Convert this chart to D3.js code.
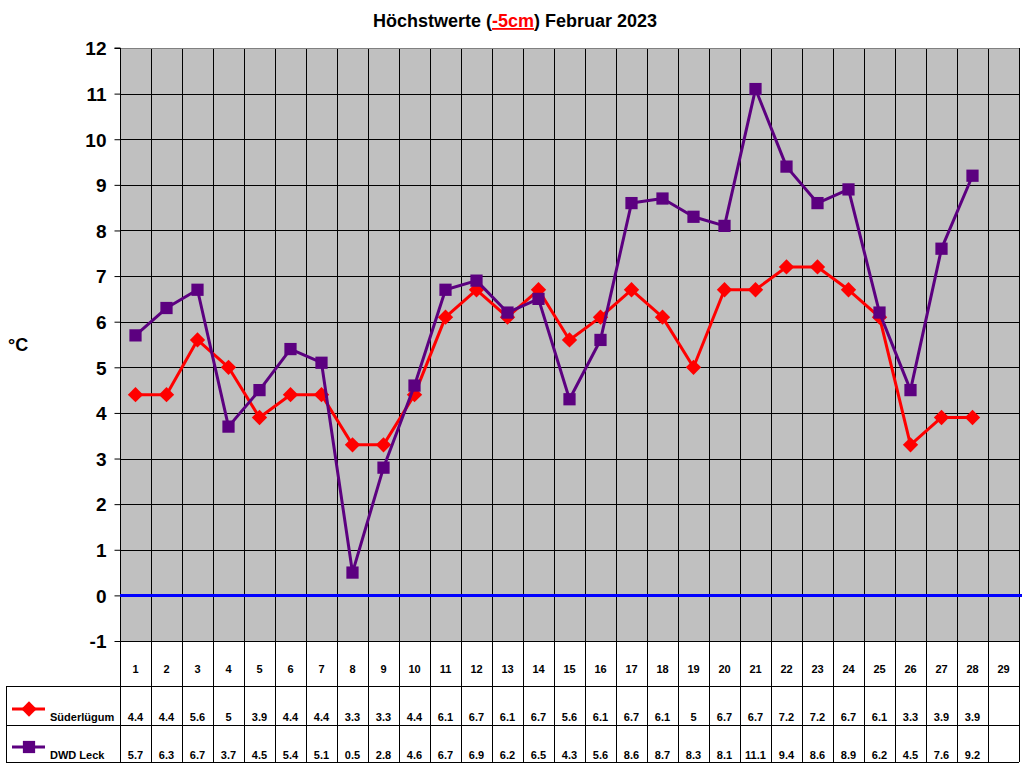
<!DOCTYPE html>
<html>
<head>
<meta charset="utf-8">
<script src="https://cdn.jsdelivr.net/npm/d3@7"></script>
<style>
  body { margin: 0; background: #fff; }
  svg { display: block; font-family: Arial, "Liberation Sans", sans-serif; }
</style>
</head>
<body>
<svg width="1024" height="768"></svg>
<script>
const days = d3.range(1, 30);
const suederluegum = [4.4, 4.4, 5.6, 5, 3.9, 4.4, 4.4, 3.3, 3.3, 4.4, 6.1, 6.7, 6.1, 6.7, 5.6, 6.1, 6.7, 6.1, 5, 6.7, 6.7, 7.2, 7.2, 6.7, 6.1, 3.3, 3.9, 3.9];
const dwdLeck = [5.7, 6.3, 6.7, 3.7, 4.5, 5.4, 5.1, 0.5, 2.8, 4.6, 6.7, 6.9, 6.2, 6.5, 4.3, 5.6, 8.6, 8.7, 8.3, 8.1, 11.1, 9.4, 8.6, 8.9, 6.2, 4.5, 7.6, 9.2];
const yTicks = d3.range(-1, 13);

const series = [
  { name: 'Süderlügum', values: suederluegum, color: '#ff0000', marker: 'diamond' },
  { name: 'DWD Leck', values: dwdLeck, color: '#5c0080', marker: 'square' }
];

const svg = d3.select('svg');
const pLeft = 120, pRight = 1019, pTop = 48, pBottom = 641;
const rowY = [641, 686, 725, 762];

const x = d3.scaleBand().domain(days).range([pLeft, pRight]);
const y = d3.scaleLinear().domain([-1, 12]).range([pBottom, pTop]);

// title
const title = svg.append('text')
  .attr('x', 515).attr('y', 27)
  .attr('text-anchor', 'middle')
  .style('font-size', '18px').style('font-weight', 'bold');
title.append('tspan').text('Höchstwerte (');
title.append('tspan').attr('fill', '#ff0000').style('text-decoration', 'underline').text('-5cm');
title.append('tspan').text(') Februar 2023');

// plot background
svg.append('rect')
  .attr('x', pLeft).attr('y', pTop)
  .attr('width', pRight - pLeft).attr('height', pBottom - pTop)
  .attr('fill', '#c0c0c0');

// horizontal grid
svg.append('g').selectAll('line').data(yTicks.filter(d => d > -1 && d < 12))
  .enter().append('line')
  .attr('x1', pLeft).attr('x2', pRight)
  .attr('y1', d => Math.round(y(d)) + 0.5).attr('y2', d => Math.round(y(d)) + 0.5)
  .attr('stroke', '#000').attr('stroke-width', 1);

// vertical grid (through plot and table)
svg.append('g').selectAll('line').data(days.slice(1))
  .enter().append('line')
  .attr('x1', d => Math.round(x(d)) + 0.5).attr('x2', d => Math.round(x(d)) + 0.5)
  .attr('y1', pTop).attr('y2', rowY[3])
  .attr('stroke', '#000').attr('stroke-width', 1);

// plot top border
svg.append('line')
  .attr('x1', pLeft).attr('x2', pRight).attr('y1', pTop + 0.5).attr('y2', pTop + 0.5)
  .attr('stroke', '#808080');
svg.append('line')
  .attr('x1', pRight + 0.5).attr('x2', pRight + 0.5).attr('y1', pTop).attr('y2', rowY[3])
  .attr('stroke', '#000');

// y axis
const yAxis = svg.append('g')
  .attr('transform', `translate(${pLeft + 0.5},0)`)
  .call(d3.axisLeft(y).tickValues(yTicks).tickSize(6).tickPadding(8).tickFormat(d => String(d)));
yAxis.selectAll('.tick line').attr('stroke', '#000');
yAxis.selectAll('.tick text')
  .style('font-size', '19px').style('font-weight', 'bold').attr('fill', '#000')
  .attr('dy', '0.36em');
yAxis.select('.domain').attr('stroke', '#000').attr('d', `M-6,${pTop}H0V${rowY[3]}`);

svg.append('text')
  .attr('x', 8).attr('y', 351)
  .style('font-size', '18px').style('font-weight', 'bold')
  .text('°C');

// zero line
svg.append('line')
  .attr('x1', pLeft).attr('x2', pRight + 3)
  .attr('y1', y(0)).attr('y2', y(0))
  .attr('stroke', '#0000ff').attr('stroke-width', 3);

// table lines
svg.append('line').attr('x1', pLeft).attr('x2', pRight).attr('y1', rowY[0] + 0.5).attr('y2', rowY[0] + 0.5).attr('stroke', '#000');
[rowY[1], rowY[2], rowY[3]].forEach(ry => {
  svg.append('line').attr('x1', 6).attr('x2', pRight).attr('y1', ry + 0.5).attr('y2', ry + 0.5).attr('stroke', '#000');
});
svg.append('line').attr('x1', 6.5).attr('x2', 6.5).attr('y1', rowY[1]).attr('y2', rowY[3]).attr('stroke', '#000');

// category labels
svg.append('g').selectAll('text').data(days)
  .enter().append('text')
  .attr('x', d => x(d) + x.bandwidth() / 2)
  .attr('y', 673)
  .attr('text-anchor', 'middle')
  .style('font-size', '11px').style('font-weight', 'bold')
  .text(d => d);

const diamond = d3.symbol().type(d3.symbolDiamond2).size(150);
const square = d3.symbol().type(d3.symbolSquare).size(150);

series.forEach((s, i) => {
  const pts = s.values.map((v, j) => ({ day: days[j], v }));
  const line = d3.line().x(d => x(d.day) + x.bandwidth() / 2).y(d => y(d.v));
  svg.append('path').datum(pts)
    .attr('d', line)
    .attr('fill', 'none').attr('stroke', s.color).attr('stroke-width', 3)
    .attr('stroke-linejoin', 'round');
  svg.append('g').selectAll('path').data(pts)
    .enter().append('path')
    .attr('transform', d => `translate(${x(d.day) + x.bandwidth() / 2},${y(d.v)})`)
    .attr('d', s.marker === 'diamond' ? diamond : square)
    .attr('fill', s.color);

  // table row
  const ty = i === 0 ? 721 : 759;
  svg.append('g').selectAll('text').data(pts)
    .enter().append('text')
    .attr('x', d => x(d.day) + x.bandwidth() / 2)
    .attr('y', ty)
    .attr('text-anchor', 'middle')
    .style('font-size', '11px').style('font-weight', 'bold')
    .text(d => d.v);

  // legend key
  const ly = i === 0 ? 709 : 747;
  svg.append('line').attr('x1', 12).attr('x2', 45).attr('y1', ly).attr('y2', ly)
    .attr('stroke', s.color).attr('stroke-width', 3);
  svg.append('path')
    .attr('transform', `translate(29,${ly})`)
    .attr('d', s.marker === 'diamond' ? diamond : square)
    .attr('fill', s.color);
  svg.append('text')
    .attr('x', 50).attr('y', ty)
    .style('font-size', '11px').style('font-weight', 'bold')
    .text(s.name);
});
</script>
</body>
</html>
